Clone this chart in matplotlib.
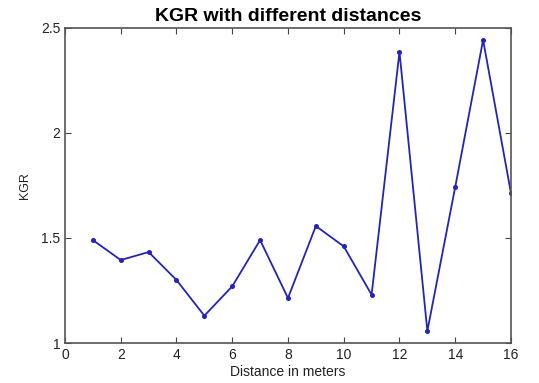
import matplotlib
matplotlib.use("Agg")
import matplotlib.pyplot as plt

distance = list(range(1, 17))
kgr = [1.49, 1.395, 1.433, 1.30, 1.13, 1.27, 1.49, 1.214, 1.557, 1.46, 1.23, 2.386, 1.057, 1.743, 2.443, 1.714]
xticks = [0, 2, 4, 6, 8, 10, 12, 14, 16]
yticks = [1, 1.5, 2, 2.5]

plt.rcParams['font.family'] = ['Liberation Sans', 'DejaVu Sans']
fig = plt.figure(figsize=(5.39, 3.83), dpi=100)
ax = fig.add_axes([0.1206, 0.1044, 0.8274, 0.8226])
ax.plot(distance, kgr, color='#2424b8', lw=1.3, marker='o', ms=2.6)
ax.set_xlim(0, 16)
ax.set_ylim(1, 2.5)
ax.set_xticks(xticks)
ax.set_xticklabels([str(t) for t in xticks])
ax.set_yticks(yticks)
ax.set_yticklabels(['1', '1.5', '2', '2.5'])
ax.tick_params(direction='in', top=True, right=True, labelsize=10, length=4, color='#444444', labelcolor='#222222')
for s in ax.spines.values():
    s.set_color('#555555')
    s.set_linewidth(1.2)
ax.set_xlabel('Distance in meters', fontsize=10, labelpad=2, color='#222222')
ax.set_ylabel('KGR', fontsize=9, labelpad=7, color='#222222')
ax.set_title('KGR with different distances', fontsize=14, fontweight='bold', pad=5)
fig.savefig('out.png', dpi=100)
